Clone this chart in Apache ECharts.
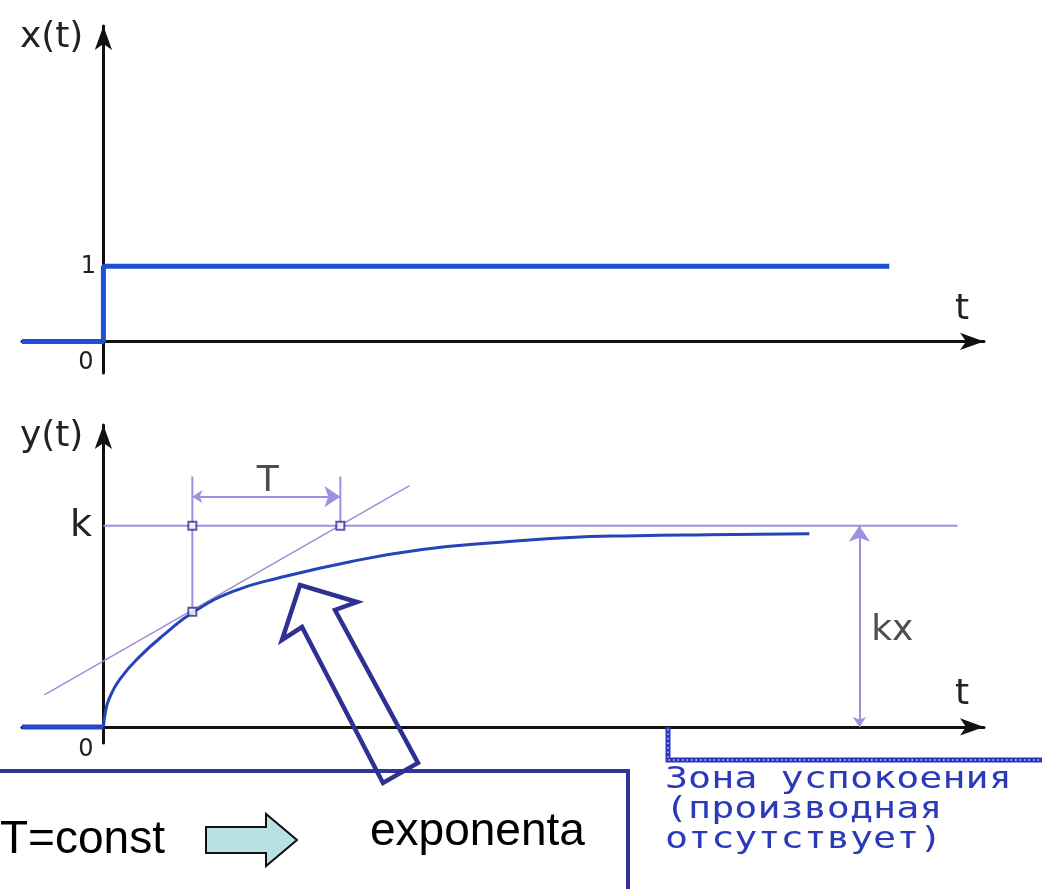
<!DOCTYPE html>
<html>
<head>
<meta charset="utf-8">
<script src="https://cdn.jsdelivr.net/npm/echarts@6/dist/echarts.min.js"></script>
<style>
  html, body { margin: 0; padding: 0; background: #fff; }
  #main { width: 1042px; height: 889px; }
</style>
</head>
<body>
<div id="main"></div>
<script>
// t in units of T, y in units of k
var stepT = [-0.55, 0, 0, 5.31];
var stepX = [0, 0, 1, 1];

var flatT = [-0.55, 0];
var flatY = [0, 0];

var respT = [0, 0.014, 0.041, 0.108, 0.243, 0.426, 0.601, 0.872, 1.189, 1.669, 2.155, 2.635, 3.122, 3.601, 4.088, 4.77];
var respY = [0, 0.075, 0.144, 0.234, 0.348, 0.468, 0.567, 0.672, 0.741, 0.821, 0.881, 0.915, 0.94, 0.95, 0.955, 0.96];

var tangentT = [-0.399, 2.068];
var tangentY = [0.159, 1.199];

var kLineT = [0, 5.77];
var kLineY = [1, 1];

var guide1T = [0.601, 0.601];
var guide1Y = [0.572, 1.244];
var guide2T = [1.601, 1.601];
var guide2Y = [1.0, 1.244];

var dimTT = [0.601, 1.601];
var dimTY = [1.144, 1.144];
var dimKT = [5.108, 5.108];
var dimKY = [0, 1];

var markT = [0.601, 1.601, 0.601];
var markY = [1.0, 1.0, 0.572];

var labelNames = ['T', 'kx'];
var labelT = [1.11, 5.33];
var labelY = [1.22, 0.48];

function zip(a, b) {
  var out = [];
  for (var i = 0; i < a.length; i++) out.push([a[i], b[i]]);
  return out;
}

var purple = '#9d90e0';
var navy = '#2e3192';
var axisCol = '#111';
var txtFont = 'DejaVu Sans';

function xAxisOpt(idx, labelMargin) {
  return {
    type: 'value', gridIndex: idx, min: -0.55, max: 5.95,
    splitLine: { show: false },
    axisTick: { show: false },
    axisLine: { onZero: true, lineStyle: { color: axisCol, width: 3 }, symbol: ['none', 'arrow'], symbolSize: [13, 24] },
    axisLabel: {
      customValues: [0], formatter: function () { return '0'; },
      fontSize: 24, color: '#222', fontFamily: txtFont,
      align: 'right', margin: labelMargin, padding: [0, 10, 0, 0]
    },
    name: 't', nameLocation: 'end', nameGap: -22,
    nameTextStyle: { fontSize: 36, color: '#222', fontFamily: txtFont, align: 'center', verticalAlign: 'bottom', padding: [0, 0, 14, 0] }
  };
}

var option = {
  backgroundColor: '#fff',
  animation: false,
  grid: [
    { left: 22, right: 58, top: 26, bottom: 516, outerBoundsMode: 'none' },
    { left: 22, right: 58, top: 425, bottom: 146, outerBoundsMode: 'none' }
  ],
  xAxis: [xAxisOpt(0, -22), xAxisOpt(1, -5)],
  yAxis: [
    {
      type: 'value', gridIndex: 0, min: -0.42, max: 4.2,
      splitLine: { show: false }, axisTick: { show: false },
      axisLine: { onZero: true, lineStyle: { color: axisCol, width: 3 }, symbol: ['none', 'arrow'], symbolSize: [13, 24] },
      axisLabel: { customValues: [1], formatter: function () { return '1'; }, fontSize: 24, color: '#222', fontFamily: txtFont, margin: -74 },
      name: 'x(t)', nameLocation: 'end', nameGap: -12,
      nameTextStyle: { fontSize: 36, color: '#222', fontFamily: txtFont, align: 'right', verticalAlign: 'middle', padding: [0, 20, 0, 0] }
    },
    {
      type: 'value', gridIndex: 1, min: -0.08, max: 1.5,
      splitLine: { show: false }, axisTick: { show: false },
      axisLine: { onZero: true, lineStyle: { color: axisCol, width: 3 }, symbol: ['none', 'arrow'], symbolSize: [13, 24] },
      axisLabel: { customValues: [1], formatter: function () { return 'k'; }, fontSize: 38, color: '#222', fontFamily: txtFont, margin: -70 },
      name: 'y(t)', nameLocation: 'end', nameGap: -12,
      nameTextStyle: { fontSize: 36, color: '#222', fontFamily: txtFont, align: 'right', verticalAlign: 'middle', padding: [0, 20, 0, 0] }
    }
  ],
  series: [
    {
      type: 'line', xAxisIndex: 0, yAxisIndex: 0, data: zip(stepT, stepX),
      showSymbol: false, lineStyle: { color: '#1f4fd6', width: 5 }, z: 5
    },
    {
      type: 'line', xAxisIndex: 1, yAxisIndex: 1, data: zip(flatT, flatY),
      showSymbol: false, lineStyle: { color: '#2748c8', width: 5 }, z: 5
    },
    {
      type: 'line', xAxisIndex: 1, yAxisIndex: 1, data: zip(kLineT, kLineY),
      showSymbol: false, lineStyle: { color: purple, width: 2 }
    },
    {
      type: 'line', xAxisIndex: 1, yAxisIndex: 1, data: zip(tangentT, tangentY),
      showSymbol: false, lineStyle: { color: '#a48ad6', width: 1.5 }
    },
    {
      type: 'line', xAxisIndex: 1, yAxisIndex: 1, data: zip(guide1T, guide1Y),
      showSymbol: false, lineStyle: { color: purple, width: 2 }
    },
    {
      type: 'line', xAxisIndex: 1, yAxisIndex: 1, data: zip(guide2T, guide2Y),
      showSymbol: false, lineStyle: { color: purple, width: 2 }
    },
    {
      type: 'line', xAxisIndex: 1, yAxisIndex: 1, data: zip(respT, respY),
      showSymbol: false, smooth: 0.5,
      lineStyle: { color: '#2444b8', width: 3 }, z: 4
    },
    {
      type: 'lines', coordinateSystem: 'cartesian2d', xAxisIndex: 1, yAxisIndex: 1,
      data: [{ coords: zip(dimTT, dimTY) }, { coords: zip(dimKT, dimKY) }],
      symbol: ['arrow', 'arrow'], symbolSize: [10, 16],
      lineStyle: { color: purple, width: 2, opacity: 1 }
    },
    {
      type: 'scatter', xAxisIndex: 1, yAxisIndex: 1, data: zip(markT, markY),
      symbol: 'rect', symbolSize: 8,
      itemStyle: { color: '#fff', borderColor: navy, borderWidth: 2 }, z: 6
    },
    {
      type: 'scatter', xAxisIndex: 1, yAxisIndex: 1,
      data: labelT.map(function (t, i) { return { value: [t, labelY[i]], name: labelNames[i] }; }),
      symbolSize: 0,
      label: { show: true, position: 'inside', formatter: '{b}', fontSize: 36, color: '#222', fontFamily: txtFont }
    }
  ],
  graphic: [
    { type: 'polyline', shape: { points: [[0, 771], [628, 771], [628, 889]] }, style: { stroke: '#333399', lineWidth: 4, fill: null }, z: 10 },
    { type: 'polygon', shape: { points: [[300, 585], [282, 640], [302, 627], [383, 783], [418, 763], [335, 610], [357, 602]] },
      style: { stroke: navy, lineWidth: 4.5, fill: null, lineJoin: 'miter' }, z: 11 },
    { type: 'text', x: 0, y: 840, style: { text: 'T=const', font: '46px "Liberation Sans", Arial', fill: '#000', textVerticalAlign: 'middle' }, z: 12 },
    { type: 'polygon', shape: { points: [[206, 827], [266, 827], [266, 814], [297, 840], [266, 866], [266, 853], [206, 853]] },
      style: { stroke: '#111', lineWidth: 2, fill: '#b9e0e2' }, z: 12 },
    { type: 'text', x: 370, y: 832, style: { text: 'exponenta', font: '46px "Liberation Sans", Arial', fill: '#000', textVerticalAlign: 'middle' }, z: 12 },
    { type: 'polyline', shape: { points: [[668, 727], [668, 760], [1042, 760]] }, style: { stroke: '#2a36c0', lineWidth: 5, fill: null }, z: 10 },
    { type: 'polyline', shape: { points: [[668, 729], [668, 760], [1042, 760]] }, style: { stroke: '#c8d0ff', lineWidth: 1.5, lineDash: [1.5, 3], fill: null }, z: 11 },
    { type: 'text', x: 665, y: 765, scaleX: 1.28,
      style: { text: 'Зона успокоения\n(производная\nотсутствует)', font: '30px "DejaVu Sans Mono"', fill: '#2b3ab8', lineHeight: 30 }, z: 12 }
  ]
};

var chart = echarts.init(document.getElementById('main'));
chart.setOption(option);
</script>
</body>
</html>
